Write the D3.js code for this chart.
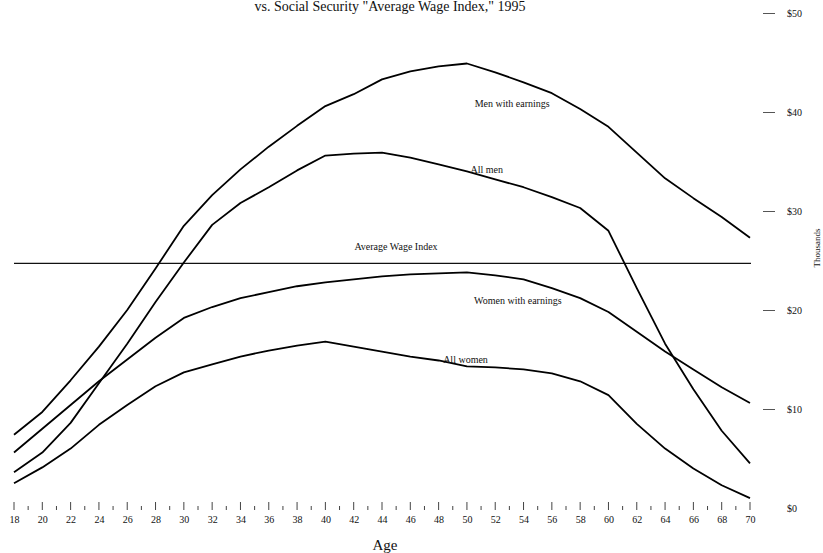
<!DOCTYPE html>
<html>
<head>
<meta charset="utf-8">
<script src="https://cdn.jsdelivr.net/npm/d3@7"></script>
<style>
  html, body { margin: 0; padding: 0; background: #fff; }
  svg { display: block; }
  text { font-family: "Liberation Serif", "DejaVu Serif", serif; fill: #111; }
</style>
</head>
<body>
<svg id="chart" width="823" height="553"></svg>
<script>
const ages = [18,20,22,24,26,28,30,32,34,36,38,40,42,44,46,48,50,52,54,56,58,60,62,64,66,68,70];
const menWithEarnings = [7.4,9.7,12.9,16.3,20.0,24.2,28.5,31.6,34.2,36.5,38.6,40.6,41.8,43.3,44.1,44.6,44.9,44.0,43.0,41.9,40.3,38.5,35.9,33.3,31.3,29.4,27.3];
const allMen = [3.6,5.6,8.6,12.6,16.6,20.8,24.8,28.6,30.8,32.4,34.1,35.6,35.8,35.9,35.4,34.7,34.0,33.2,32.4,31.4,30.3,28.0,22.2,16.6,12.0,7.8,4.5];
const womenWithEarnings = [5.6,8.0,10.4,12.8,15.0,17.2,19.2,20.3,21.2,21.8,22.4,22.8,23.1,23.4,23.6,23.7,23.8,23.5,23.1,22.2,21.2,19.8,17.8,15.8,14.0,12.2,10.6];
const allWomen = [2.5,4.1,6.0,8.4,10.4,12.3,13.7,14.5,15.3,15.9,16.4,16.8,16.3,15.8,15.3,14.9,14.3,14.2,14.0,13.6,12.8,11.4,8.5,6.0,4.0,2.3,1.0];
const averageWageIndex = 24.7;
const yTicks = [0,10,20,30,40,50];
const seriesNames = ["Men with earnings","All men","Women with earnings","All women"];
const seriesLabelAt = [[53.2, 40.5],[51.4, 33.8],[53.6, 20.6],[49.9, 14.6]];
const titleText = 'vs. Social Security "Average Wage Index," 1995';
const xLabel = "Age";
const yLabel = "Thousands";

const svg = d3.select("#chart");
const x = d3.scaleLinear().domain([18,70]).range([14,750]);
const y = d3.scaleLinear().domain([0,50]).range([508,13]);

// title
svg.append("text").attr("x", 390).attr("y", 11).attr("text-anchor","middle")
  .style("font-size","14px").text(titleText);

// Average wage index line
svg.append("line")
  .attr("x1", x(18)).attr("x2", x(70) + 1)
  .attr("y1", y(averageWageIndex)).attr("y2", y(averageWageIndex))
  .attr("stroke","#111").attr("stroke-width",1.2);
svg.append("text").attr("x", 396).attr("y", y(averageWageIndex) - 13)
  .attr("text-anchor","middle").style("font-size","10px").text("Average Wage Index");

// series lines
const line = d3.line().x((d,i)=>x(ages[i])).y(d=>y(d)).curve(d3.curveLinear);
const allSeries = [menWithEarnings, allMen, womenWithEarnings, allWomen];
svg.selectAll("path.series").data(allSeries).join("path")
  .attr("class","series")
  .attr("d", d=>line(d))
  .attr("fill","none").attr("stroke","#000").attr("stroke-width",1.8)
  .attr("stroke-linejoin","round");

svg.selectAll("text.slabel").data(seriesNames).join("text")
  .attr("class","slabel")
  .attr("x",(d,i)=>x(seriesLabelAt[i][0]))
  .attr("y",(d,i)=>y(seriesLabelAt[i][1]))
  .attr("text-anchor","middle").style("font-size","10px")
  .text(d=>d);

// bottom axis: minor/major ticks
const allAges = d3.range(18,71);
svg.selectAll("line.xtick").data(allAges).join("line")
  .attr("class","xtick")
  .attr("x1", d=>x(d)).attr("x2", d=>x(d))
  .attr("y1", d=> d%2===0 ? 502 : 506).attr("y2", 510)
  .attr("stroke","#444").attr("stroke-width",1);

const xAxis = d3.axisBottom(x).tickValues(ages).tickSize(0).tickPadding(0).tickFormat(d3.format("d"));
const gx = svg.append("g").attr("transform","translate(0,516)").call(xAxis);
gx.select(".domain").remove();
gx.selectAll("text").attr("fill","#222").style("font-size","10px")
  .style("font-family","'Liberation Serif', serif");

svg.append("text").attr("x", 385).attr("y", 550).attr("text-anchor","middle")
  .style("font-size","15px").text(xLabel);

// right axis
const yAxis = d3.axisRight(y).tickValues(yTicks).tickSize(12).tickPadding(12).tickFormat(d=>"$"+d);
const gy = svg.append("g").attr("transform","translate(763,0)").call(yAxis);
gy.select(".domain").remove();
gy.selectAll(".tick line").attr("stroke","#555").attr("stroke-width",1)
  .attr("opacity", d => d===0 ? 0 : 1);
gy.selectAll("text").attr("fill","#222").style("font-size","10px")
  .style("font-family","'Liberation Serif', serif");

svg.append("text")
  .attr("transform","translate(820,248) rotate(-90)")
  .attr("text-anchor","middle").style("font-size","9px").text(yLabel);
</script>
</body>
</html>
